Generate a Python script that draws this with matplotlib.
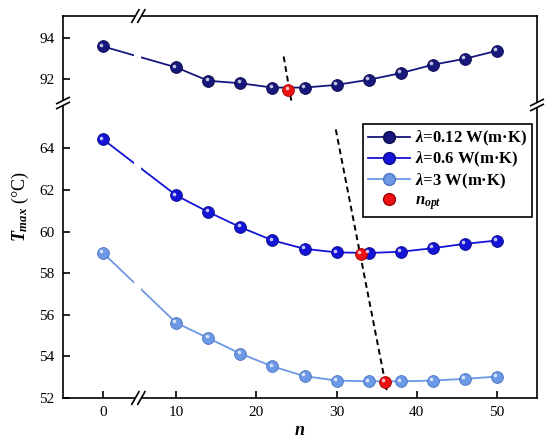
import numpy as np
import matplotlib
matplotlib.use("Agg")
import matplotlib.pyplot as plt
from matplotlib.lines import Line2D
from matplotlib.transforms import offset_copy, IdentityTransform

plt.rcParams["font.family"] = "Liberation Serif"
plt.rcParams["mathtext.fontset"] = "custom"
plt.rcParams["mathtext.rm"] = "Liberation Serif:bold"
plt.rcParams["mathtext.it"] = "Liberation Serif:italic:bold"
plt.rcParams["mathtext.bf"] = "Liberation Serif:bold"

# data
n = [0, 10, 14, 18, 22, 26, 30, 34, 38, 42, 46, 50]
t_012 = [93.59, 92.57, 91.92, 91.80, 91.59, 91.59, 91.72, 91.97, 92.29, 92.70, 92.99, 93.38]
t_06 = [64.43, 61.74, 60.94, 60.21, 59.58, 59.17, 59.00, 58.97, 59.03, 59.20, 59.41, 59.57]
t_3 = [58.97, 55.61, 54.88, 54.13, 53.52, 53.05, 52.84, 52.80, 52.80, 52.84, 52.92, 53.03]
n_opt = [24, 33, 36]
t_opt = [91.48, 58.92, 52.77]
labels = [r"$\lambda$=0.12 W(m·K)", r"$\lambda$=0.6 W(m·K)", r"$\lambda$=3 W(m·K)"]
colors = ["#17177c", "#1414d6", "#6c98e6"]
edge = ["#0a0a4a", "#0a0a8a", "#4a74c0"]

# guide lines through the optimum points
guide_top_x, guide_top_y = [23.4, 24.4], [93.1, 90.84]
guide_bot_x, guide_bot_y = [29.9, 36.25], [64.91, 52.38]

# broken x axis: squeeze out the span between 4.4 and 5.275
cut_lo, cut_hi = 4.4, 5.275
gap = cut_hi - cut_lo


def fwd(x):
    x = np.asarray(x, float)
    return np.where(x <= cut_lo, x, np.where(x >= cut_hi, x - gap, cut_lo))


def inv(u):
    u = np.asarray(u, float)
    return np.where(u <= cut_lo, u, u + gap)


W, H = 550, 447
fig = plt.figure(figsize=(W / 100, H / 100), dpi=100)
L, R = 63 / W, 537 / W
ax_top = fig.add_axes([L, 1 - 103 / H, R - L, 87 / H])
ax_bot = fig.add_axes([L, 1 - 398 / H, R - L, 295 / H])

for ax in (ax_top, ax_bot):
    ax.set_xscale("function", functions=(fwd, inv))
    ax.set_xlim(-5, 55)
    ax.set_xticks([0, 10, 20, 30, 40, 50])
    ax.tick_params(direction="in", length=5, width=1.2, labelsize=11, pad=6,
                   top=False, right=False)
    for s in ax.spines.values():
        s.set_linewidth(1.2)
    ax.axvspan(3.9, 5.6, color="white", lw=0, zorder=2.2)

ax_top.set_ylim(90.84, 95.07)
ax_top.set_yticks([92, 94])
ax_top.spines["bottom"].set_visible(False)
ax_top.tick_params(bottom=False, labelbottom=False)
ax_bot.set_ylim(52, 66.18)
ax_bot.set_yticks([52, 54, 56, 58, 60, 62, 64])
ax_bot.spines["top"].set_visible(False)


def spheres(ax, x, y, fc, ec):
    ax.plot(x, y, ls="none", marker="o", ms=8.5, mfc=fc, mec=ec, mew=0.6, zorder=3)
    hl = offset_copy(ax.transData, fig=fig, x=-1.3, y=1.3, units="points")
    ax.plot(x, y, ls="none", marker="o", ms=2.6, mfc="white", mec="none",
            alpha=0.75, transform=hl, zorder=3.1)


ax_top.plot(n, t_012, color=colors[0], lw=1.3, zorder=2)
spheres(ax_top, n, t_012, colors[0], edge[0])
ax_bot.plot(n, t_06, color=colors[1], lw=1.3, zorder=2)
spheres(ax_bot, n, t_06, colors[1], edge[1])
ax_bot.plot(n, t_3, color=colors[2], lw=1.3, zorder=2)
spheres(ax_bot, n, t_3, colors[2], edge[2])

ax_top.plot(guide_top_x, guide_top_y, color="black", lw=1.4, ls=(0, (3, 2)), zorder=2.5)
ax_bot.plot(guide_bot_x, guide_bot_y, color="black", lw=1.4, ls=(0, (3, 2)), zorder=2.5)

spheres(ax_top, n_opt[:1], t_opt[:1], "#ee1111", "#a00000")
spheres(ax_bot, n_opt[1:], t_opt[1:], "#ee1111", "#a00000")

handles = [Line2D([], [], color=colors[i], lw=1.3, marker="o", ms=8.5,
                  mfc=colors[i], mec=edge[i], label=labels[i]) for i in range(3)]
handles.append(Line2D([], [], ls="none", marker="o", ms=8.5, mfc="#ee1111",
                      mec="#a00000", label=r"$n_{opt}$"))
leg = ax_bot.legend(handles=handles, loc="upper right", bbox_to_anchor=(0.9895, 0.929),
                    borderaxespad=0, fancybox=False, framealpha=1, edgecolor="black",
                    handlelength=2.5, handletextpad=0.3, labelspacing=0.12, borderpad=0.3,
                    prop={"weight": "bold", "size": 12})
leg.get_frame().set_linewidth(1.2)

ax_bot.set_xlabel(r"$n$", fontsize=13, labelpad=2)
fig.text(20 / W, 1 - 207 / H, r"$T_{max}$ (°C)", rotation=90, fontsize=13,
         ha="center", va="center")


# break marks, drawn in pixels
def seg(xs, ys, color="black", lw=1.2):
    fig.add_artist(Line2D(xs, ys, color=color, lw=lw, transform=IdentityTransform(),
                          solid_capstyle="butt"))


def x_break(cx, cy):
    seg([cx - 3, cx + 3], [cy, cy], color="white", lw=3)
    for s in (-3, 3):
        seg([cx + s - 4, cx + s + 4], [cy - 7, cy + 7])


def y_break(cx, cy):
    seg([cx, cx], [cy - 2.5, cy + 2.5], color="white", lw=3)
    for s in (-2.5, 2.5):
        seg([cx - 7, cx + 7], [cy + s - 3.5, cy + s + 3.5])


xb = ax_bot.transData.transform((4.8, 60))[0]
x_break(xb, ax_bot.get_position().y0 * H)
x_break(xb, ax_top.get_position().y1 * H)
yb = ax_bot.get_position().y1 * H
y_break(L * W, yb)
y_break(R * W, yb - 2)

fig.savefig("out.png", dpi=100)
